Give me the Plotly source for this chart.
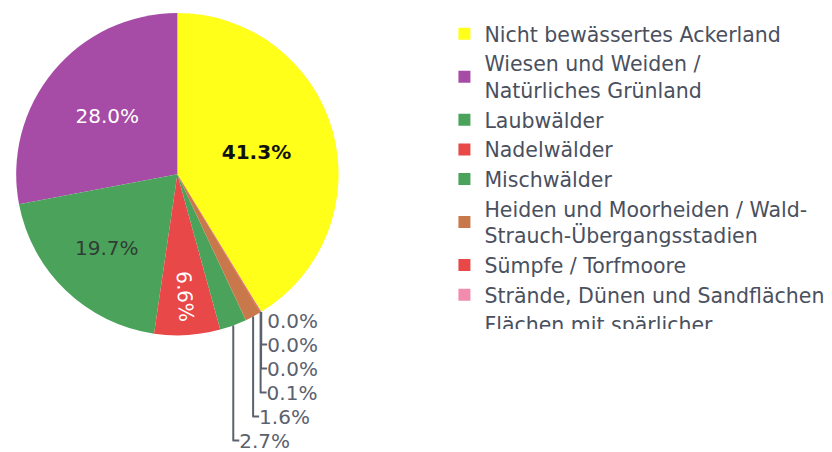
import plotly.graph_objects as go

labels = [
    "Nicht bewässertes Ackerland",
    "Wiesen und Weiden /<br>Natürliches Grünland",
    "Laubwälder",
    "Nadelwälder",
    "Mischwälder",
    "Heiden und Moorheiden / Wald-<br>Strauch-Übergangsstadien",
    "Sümpfe / Torfmoore",
    "Strände, Dünen und Sandflächen",
    "Flächen mit spärlicher<br>Vegetation",
    "Wasserflächen",
]
values = [41.3, 28.0, 19.7, 6.6, 2.7, 1.6, 0.1, 0.01, 0.01, 0.01]
colors = ["#ffff1a", "#a64ca6", "#4ba35b", "#e84848", "#4ba35b",
          "#c8784a", "#e84848", "#f28cae", "#8c8c8c", "#5b8fd0"]

inside_colors = ["#111111", "#ffffff", "#2f3d35", "#ffffff", "#5b616e",
                 "#5b616e", "#5b616e", "#5b616e", "#5b616e", "#5b616e"]
positions = ["inside", "inside", "inside", "inside", "outside",
             "outside", "outside", "outside", "outside", "outside"]
templates = ["<b>%{percent:.1%}</b>"] + ["%{percent:.1%}"] * 9

W, H = 832, 452

fig = go.Figure(go.Pie(
    labels=labels,
    values=values,
    sort=False,
    direction="counterclockwise",
    rotation=0,
    marker=dict(colors=colors, line=dict(width=0)),
    textposition=positions,
    texttemplate=templates,
    textfont=dict(family="DejaVu Sans", size=20),
    insidetextfont=dict(family="DejaVu Sans", size=20, color=inside_colors),
    outsidetextfont=dict(family="DejaVu Sans", size=20, color="#5b616e"),
    insidetextorientation="auto",
    domain=dict(x=[3 / W, 331 / W], y=[(H - 326) / H, 1.0]),
))

fig.update_layout(
    width=W, height=H,
    margin=dict(l=0, r=0, t=0, b=0),
    paper_bgcolor="white",
    font=dict(family="DejaVu Sans", size=20.5, color="#4a505e"),
    showlegend=True,
    legend=dict(x=435 / W, xanchor="left", y=(H - 1) / H, yanchor="top",
                maxheight=315, font=dict(size=20.5, color="#4a505e"),
                bgcolor="rgba(0,0,0,0)"),
)

fig.write_html("out.html")
